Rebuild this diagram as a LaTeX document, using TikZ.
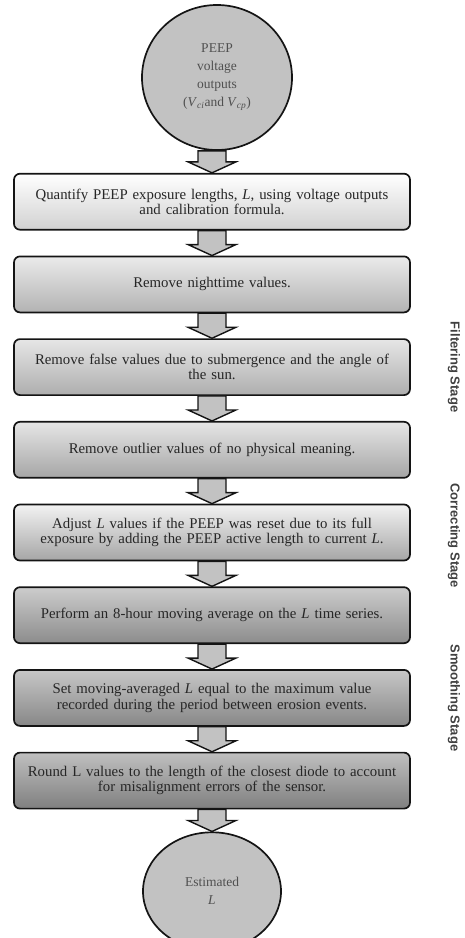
\documentclass[tikz,border=0pt]{standalone}
\usepackage{fontspec}
\setmainfont{Liberation Serif}
\newfontfamily\stagefont{Liberation Sans}
\usetikzlibrary{positioning,calc,shapes.geometric}
\definecolor{boxline}{HTML}{141414}
\definecolor{ovalfill}{HTML}{C2C2C2}
\definecolor{ovaltext}{HTML}{505050}
\definecolor{boxtext}{HTML}{262626}
\definecolor{stagetext}{HTML}{404040}

\tikzset{
  stepbox/.style={draw=boxline, line width=1.7pt, rounded corners=6pt,
    minimum width=396pt, minimum height=56pt, text width=380pt, align=center,
    text=boxtext, font=\fontsize{14.8}{15.5}\selectfont},
  oval/.style={draw=boxline, line width=1.7pt, ellipse, fill=ovalfill,
    inner sep=0pt, align=center, text=ovaltext, font=\fontsize{13.5}{18}\selectfont},
  blockarrow/.style={draw=boxline, line width=1.4pt, fill=ovalfill,
    to path={let \p1=(\tikztostart), \p2=(\tikztotarget) in
      (\x2-14pt,\y1) -- (\x2+14pt,\y1) -- (\x2+14pt,\y2+11pt) -- (\x2+24pt,\y2+11pt)
      -- (\x2,\y2) -- (\x2-24pt,\y2+11pt) -- (\x2-14pt,\y2+11pt) -- cycle}},
  stagelabel/.style={rotate=-90, text=stagetext, font=\stagefont\bfseries\fontsize{13}{15}\selectfont}
}

\begin{document}
\begin{tikzpicture}[x=1pt, y=1pt]
  \useasboundingbox (0,0) rectangle (464,-938);
  % input and processing steps
  \node[oval, minimum width=150pt, minimum height=145pt] (peep) at (217,-77.5)
    {PEEP\\voltage\\outputs\\(\textit{V}\textsubscript{\textit{ci}}and \textit{V}\textsubscript{\textit{cp}})};
  \node[stepbox, top color=white, bottom color=black!18, below=22pt of peep, xshift=-5pt] (quant)
    {Quantify PEEP exposure lengths, \textit{L}, using voltage outputs\\and calibration formula.};
  \node[stepbox, top color=black!8, bottom color=black!30, below=25pt of quant] (night)
    {Remove nighttime values.};
  \node[stepbox, top color=black!10, bottom color=black!32, below=25pt of night] (sunang)
    {Remove false values due to submergence and the angle of\\the sun.};
  \node[stepbox, top color=black!10, bottom color=black!35, below=25pt of sunang] (outl)
    {Remove outlier values of no physical meaning.};
  \node[stepbox, top color=black!5, bottom color=black!35, below=25pt of outl] (reset)
    {Adjust \textit{L} values if the PEEP was reset due to its full\\exposure by adding the PEEP active length to current \textit{L}.};
  \node[stepbox, top color=black!20, bottom color=black!45, below=25pt of reset] (movavg)
    {Perform an 8-hour moving average on the \textit{L} time series.};
  \node[stepbox, top color=black!22, bottom color=black!47, below=25pt of movavg] (maxval)
    {Set moving-averaged \textit{L} equal to the maximum value\\recorded during the period between erosion events.};
  \node[stepbox, top color=black!25, bottom color=black!50, below=25pt of maxval] (round)
    {Round L values to the length of the closest diode to account\\for misalignment errors of the sensor.};
  \node[oval, minimum width=138pt, minimum height=118pt, below=22pt of round] (est)
    {Estimated\\\textit{L}};

  \foreach \a/\b in {peep/quant, quant/night, night/sunang, sunang/outl, outl/reset,
                     reset/movavg, movavg/maxval, maxval/round, round/est}
    \draw[blockarrow] (\a.south) to (\b.north);

  % stages
  \node[stagelabel] (filt) at ($(night.north)!0.5!(outl.south) + (242,0)$) {Filtering Stage};
  \node[stagelabel] (corr) at ($(reset.center) + (242,-3)$) {Correcting Stage};
  \node[stagelabel] (smoo) at ($(movavg.north)!0.5!(round.south) + (242,0)$) {Smoothing Stage};
\end{tikzpicture}
\end{document}
